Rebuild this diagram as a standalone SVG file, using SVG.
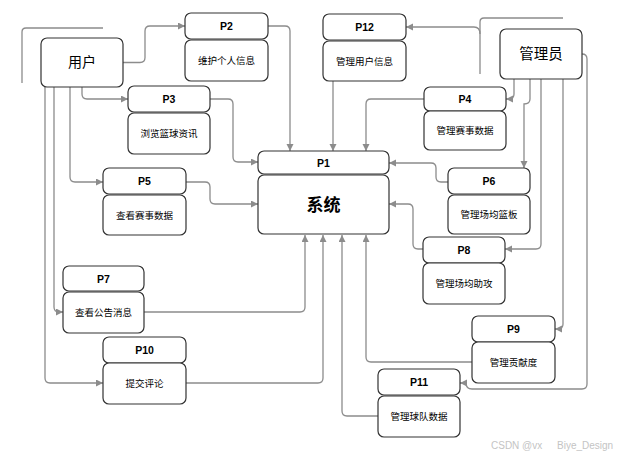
<svg xmlns="http://www.w3.org/2000/svg" width="618" height="456" viewBox="0 0 618 456">
<defs>
<marker id="ah" markerUnits="userSpaceOnUse" markerWidth="8" markerHeight="8" refX="7" refY="3.5" orient="auto">
<path d="M0,0 L7,3.5 L0,7 z" fill="#8c8c8c"/>
</marker>
<style>
.box{fill:#fff;stroke:#333;stroke-width:1.2}
.ph{font-family:"Liberation Sans",Arial,sans-serif;font-weight:bold;font-size:10.5px;fill:#000;text-anchor:middle}
.pt{font-family:"Liberation Sans","Noto Sans CJK SC",sans-serif;font-size:9.5px;fill:#000;text-anchor:middle}
.big{font-family:"Liberation Sans","Noto Sans CJK SC",sans-serif;fill:#000;text-anchor:middle}
.c{fill:none;stroke:#8c8c8c;stroke-width:1.3}
.a{marker-end:url(#ah)}
</style>
</defs>
<rect width="618" height="456" fill="#fff"/>
<g id="connectors">
<path class="c" d="M22,83 V32 Q22,28 26,28 H103"/>
<path class="c" d="M480,74 V22 Q480,18 484,18 H563"/>
<path class="c a" d="M123,62.5 H140 Q145,62.5 145,57.5 V31 Q145,26 150,26 H185"/>
<path class="c a" d="M268,26 H285 Q290,26 290,31 V151"/>
<path class="c a" d="M82,87 V94 Q82,99 87,99 H128"/>
<path class="c a" d="M210,99 H228 Q233,99 233,104 V157 Q233,162 238,162 H258"/>
<path class="c a" d="M70,87 V177 Q70,182 75,182 H103"/>
<path class="c a" d="M186,182 H205 Q210,182 210,187 V199 Q210,204 215,204 H258"/>
<path class="c a" d="M54,87 V307 Q54,312 59,312 H63"/>
<path class="c a" d="M144,312 H300 Q305,312 305,307 V235"/>
<path class="c a" d="M45,87 V378 Q45,383 50,383 H103"/>
<path class="c a" d="M186,383 H318 Q323,383 323,378 V235"/>
<path class="c a" d="M333,81 V151"/>
<path class="c a" d="M480,34 Q480,27 474,27 H406"/>
<path class="c a" d="M424,99 H371 Q366,99 366,104 V151"/>
<path class="c a" d="M514,79 V94 Q514,99 509,99 H506"/>
<path class="c a" d="M530,79 V99 Q530,104 524,104 V168"/>
<path class="c a" d="M541,79 V244 Q541,249 536,249 H505"/>
<path class="c a" d="M563,79 V324 Q563,329 558,329 H555"/>
<path class="c a" d="M582,54 Q587,54 587,59 V384 Q587,389 582,389 H472 Q466,389 466,383 H460"/>
<path class="c a" d="M448,182 H441 Q436,182 436,177 V168 Q436,163 431,163 H389"/>
<path class="c a" d="M423,249 H418 Q413,249 413,244 V209 Q413,204 408,204 H389"/>
<path class="c a" d="M472,362 H371 Q366,362 366,357 V235"/>
<path class="c a" d="M378,416 H347 Q342,416 342,411 V235"/>
</g>
<g id="user">
<rect class="box" x="41" y="38" width="82" height="49" rx="6"/>
<text class="big" x="82" y="67" font-size="14">用户</text>
</g>
<g id="admin">
<rect class="box" x="500" y="29" width="82" height="50" rx="6"/>
<text class="big" x="541" y="59" font-size="14.5">管理员</text>
</g>
<g id="P1">
<rect class="box" x="258" y="151" width="131" height="23" rx="6"/>
<text class="ph" x="323.5" y="166.5">P1</text>
<rect class="box" x="258" y="175" width="131" height="59" rx="6"/>
<text class="big" x="323.5" y="210.5" font-size="17" font-weight="bold">系统</text>
</g>
<g id="P2">
<rect class="box" x="185" y="13" width="83" height="26" rx="6"/>
<text class="ph" x="226.5" y="30">P2</text>
<rect class="box" x="185" y="40" width="83" height="41" rx="6"/>
<text class="pt" x="226.5" y="64">维护个人信息</text>
</g>
<g id="P3">
<rect class="box" x="128" y="86" width="82" height="26" rx="6"/>
<text class="ph" x="169" y="103">P3</text>
<rect class="box" x="128" y="113" width="82" height="41" rx="6"/>
<text class="pt" x="169" y="137">浏览篮球资讯</text>
</g>
<g id="P4">
<rect class="box" x="424" y="87" width="82" height="24" rx="6"/>
<text class="ph" x="465" y="103">P4</text>
<rect class="box" x="424" y="111" width="82" height="39" rx="6"/>
<text class="pt" x="465" y="134">管理赛事数据</text>
</g>
<g id="P5">
<rect class="box" x="103" y="168" width="83" height="26" rx="6"/>
<text class="ph" x="144.5" y="185">P5</text>
<rect class="box" x="103" y="195" width="83" height="40" rx="6"/>
<text class="pt" x="144.5" y="218.5">查看赛事数据</text>
</g>
<g id="P6">
<rect class="box" x="448" y="168" width="82" height="26" rx="6"/>
<text class="ph" x="489" y="185">P6</text>
<rect class="box" x="448" y="195" width="82" height="39" rx="6"/>
<text class="pt" x="489" y="218">管理场均篮板</text>
</g>
<g id="P7">
<rect class="box" x="63" y="266" width="81" height="25" rx="6"/>
<text class="ph" x="103.5" y="282.5">P7</text>
<rect class="box" x="63" y="292" width="81" height="41" rx="6"/>
<text class="pt" x="103.5" y="316">查看公告消息</text>
</g>
<g id="P8">
<rect class="box" x="423" y="237" width="82" height="26" rx="6"/>
<text class="ph" x="464" y="254">P8</text>
<rect class="box" x="423" y="263" width="82" height="41" rx="6"/>
<text class="pt" x="464" y="287">管理场均助攻</text>
</g>
<g id="P9">
<rect class="box" x="472" y="316" width="83" height="26" rx="6"/>
<text class="ph" x="513.5" y="333">P9</text>
<rect class="box" x="472" y="342" width="83" height="41" rx="6"/>
<text class="pt" x="513.5" y="366">管理贡献度</text>
</g>
<g id="P10">
<rect class="box" x="103" y="337" width="83" height="26" rx="6"/>
<text class="ph" x="144.5" y="354">P10</text>
<rect class="box" x="103" y="363" width="83" height="41" rx="6"/>
<text class="pt" x="144.5" y="387">提交评论</text>
</g>
<g id="P11">
<rect class="box" x="378" y="369" width="82" height="26" rx="6"/>
<text class="ph" x="419" y="386">P11</text>
<rect class="box" x="378" y="396" width="82" height="41" rx="6"/>
<text class="pt" x="419" y="420">管理球队数据</text>
</g>
<g id="P12">
<rect class="box" x="323" y="14" width="83" height="26" rx="6"/>
<text class="ph" x="364.5" y="31">P12</text>
<rect class="box" x="323" y="41" width="83" height="40" rx="6"/>
<text class="pt" x="364.5" y="64.5">管理用户信息</text>
</g>
<text y="449" font-family="'Liberation Sans',sans-serif" font-size="10" fill="#c4c4c4"><tspan x="491">CSDN @vx</tspan><tspan x="557">Biye_Design</tspan></text>
</svg>
